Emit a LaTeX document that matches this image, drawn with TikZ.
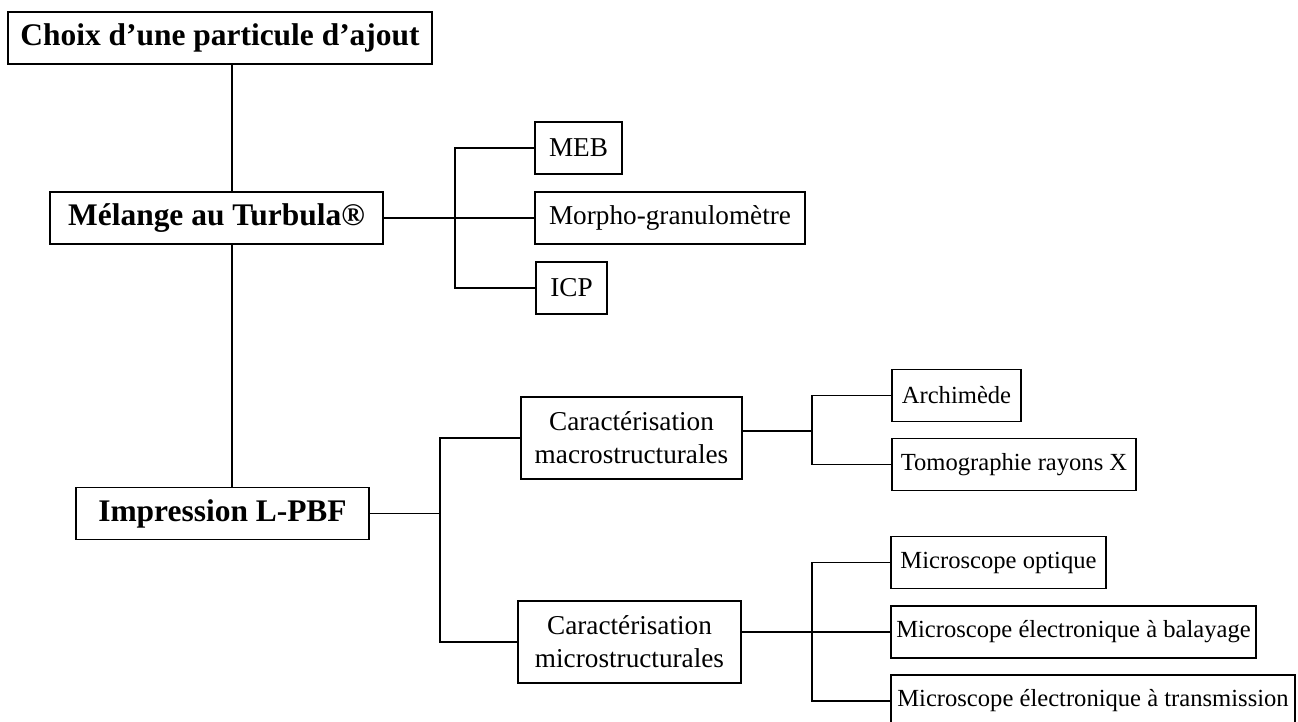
\documentclass[tikz,border=0pt]{standalone}
\usepackage{fontspec}
\setmainfont{Liberation Serif}
\usetikzlibrary{positioning}

\tikzset{
  etape/.style={draw,line width=1.1pt,align=center,inner sep=2pt,minimum height=1.04cm,font=\bfseries\fontsize{17.9pt}{21pt}\selectfont},
  carac/.style={draw,line width=1.1pt,align=center,inner sep=2pt,minimum height=1.04cm,font=\fontsize{15.5pt}{18.8pt}\selectfont},
  outil/.style={draw,line width=1.1pt,align=center,inner sep=2pt,minimum height=1.04cm,font=\fontsize{14pt}{17pt}\selectfont}
}

\begin{document}
\begin{tikzpicture}[x=0.02cm,y=-0.02cm,line width=1.1pt]
  \useasboundingbox (0,0) rectangle (1298,722);
  % etapes principales
  \node[etape,minimum width=8.48cm] (choix) at (220,38) {Choix d’une particule d’ajout};
  \node[etape,minimum width=6.66cm] (mel) at (216.5,218) {Mélange au Turbula®};
  \node[etape,minimum width=5.86cm] (impr) at (222.5,513.5) {Impression L-PBF};
  \coordinate (tronc) at (232,0);
  \draw (choix.south -| tronc) -- (mel.north -| tronc);
  \draw (mel.south -| tronc) -- (impr.north -| tronc);
  % caracterisation de la poudre
  \node[carac,minimum width=1.74cm] (meb) at (578.5,148) {MEB};
  \node[carac,minimum width=5.4cm] (morpho) at (670,218) {Morpho-granulomètre};
  \node[carac,minimum width=1.42cm] (icp) at (571.5,288) {ICP};
  \coordinate (b1) at (455,218);
  \draw (mel.east) -- (morpho.west);
  \draw (meb.west) -| (b1) |- (icp.west);
  % caracterisation des pieces
  \node[carac,minimum width=4.42cm,minimum height=1.64cm] (macro) at (631.5,438) {Caractérisation\\macrostructurales};
  \node[carac,minimum width=4.46cm,minimum height=1.64cm] (micro) at (629.5,642) {Caractérisation\\microstructurales};
  \coordinate (b2) at (440,513);
  \draw (impr.east) -- (impr.east -| b2);
  \draw (macro.west) -| (b2) |- (micro.west);
  % macro
  \node[outil,minimum width=2.58cm] (archi) at (956.5,395.5) {Archimède};
  \node[outil,minimum width=4.88cm] (tomo) at (1014,464.5) {Tomographie rayons X};
  \coordinate (b3) at (812,431);
  \draw (macro.east |- b3) -- (b3);
  \draw (archi.west) -| (b3) |- (tomo.west);
  % micro
  \node[outil,minimum width=4.3cm] (optique) at (998.5,562.5) {Microscope optique};
  \node[outil,minimum width=7.3cm] (mebal) at (1073.5,632) {Microscope électronique à balayage};
  \node[outil,minimum width=8.08cm] (met) at (1093,701) {Microscope électronique à transmission};
  \coordinate (b4) at (812,632);
  \draw (micro.east |- mebal.west) -- (mebal.west);
  \draw (optique.west) -| (b4) |- (met.west);
\end{tikzpicture}
\end{document}
